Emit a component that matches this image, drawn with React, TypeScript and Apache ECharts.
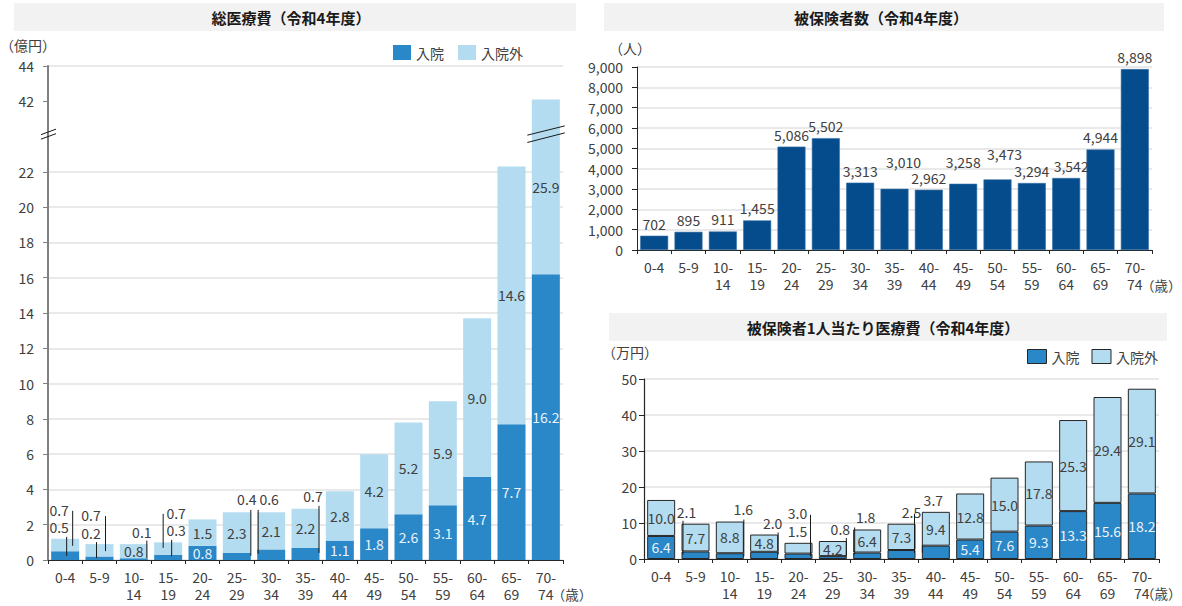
import React, { useEffect, useRef } from 'react';
import * as echarts from 'echarts';

const FONT = '"Noto Sans CJK JP", "Noto Sans", sans-serif';

// 年齢階級
const ageGroups = ['0-4', '5-9', '10-\n14', '15-\n19', '20-\n24', '25-\n29', '30-\n34', '35-\n39', '40-\n44', '45-\n49', '50-\n54', '55-\n59', '60-\n64', '65-\n69', '70-\n74'];

// 総医療費（億円）
const totalInpatient = [0.5, 0.2, 0.1, 0.3, 0.8, 0.4, 0.6, 0.7, 1.1, 1.8, 2.6, 3.1, 4.7, 7.7, 16.2];
const totalOutpatient = [0.7, 0.7, 0.8, 0.7, 1.5, 2.3, 2.1, 2.2, 2.8, 4.2, 5.2, 5.9, 9.0, 14.6, 25.9];
const totalTickLabels = [0, 2, 4, 6, 8, 10, 12, 14, 16, 18, 20, 22, 42, 44];

// 被保険者数（人）
const insuredCount = [702, 895, 911, 1455, 5086, 5502, 3313, 3010, 2962, 3258, 3473, 3294, 3542, 4944, 8898];

// 被保険者1人当たり医療費（万円）
const perInpatient = [6.4, 2.1, 1.6, 2.0, 1.5, 0.8, 1.8, 2.5, 3.7, 5.4, 7.6, 9.3, 13.3, 15.6, 18.2];
const perOutpatient = [10.0, 7.7, 8.8, 4.8, 3.0, 4.2, 6.4, 7.3, 9.4, 12.8, 15.0, 17.8, 25.3, 29.4, 29.1];

// axis break (22 -> 42) for the left chart
const BREAK_AT = 24;
const BREAK_SHIFT = 16;
const vis = (v: number) => (v <= BREAK_AT ? v : v - BREAK_SHIFT);
const unvis = (v: number) => (v <= BREAK_AT ? v : v + BREAK_SHIFT);

// callout layouts (pixel offsets from bar top): label offset & leader line [dx, y1, y2]
type Callout = { i: number; seg: 'in' | 'out'; lx: number; ly: number; line: number[] | null };
const leftCallouts: Callout[] = [
  { i: 0, seg: 'out', lx: -6, ly: -29, line: [7.5, -28, 7] },
  { i: 0, seg: 'in', lx: -6, ly: -12, line: [1.5, -2, 17] },
  { i: 1, seg: 'out', lx: -8.5, ly: -29, line: [6, -28, 7] },
  { i: 1, seg: 'in', lx: -8.5, ly: -11.5, line: [-3, -2, 14] },
  { i: 2, seg: 'in', lx: 8, ly: -12.5, line: [13, -3.5, 14] },
  { i: 3, seg: 'out', lx: 8, ly: -29.5, line: [-5, -28.5, 5.5] },
  { i: 3, seg: 'in', lx: 8, ly: -12.5, line: [3.5, -2.5, 14] },
  { i: 5, seg: 'in', lx: 10, ly: -13.5, line: [14, -2.5, 43.5] },
  { i: 6, seg: 'in', lx: -2, ly: -13.5, line: [-13, -2.5, 41.5] },
  { i: 7, seg: 'in', lx: 7.5, ly: -13, line: [13.5, -3, 44] },
];
const perCallouts: Callout[] = [
  { i: 1, seg: 'in', lx: -9, ly: -12, line: [-12.5, -3, 31] },
  { i: 2, seg: 'in', lx: 13.5, ly: -13, line: [14, -2, 35] },
  { i: 3, seg: 'in', lx: 8.5, ly: -12, line: [14, -2, 20] },
  { i: 4, seg: 'out', lx: -1, ly: -30, line: [12, -28, 13.5] },
  { i: 4, seg: 'in', lx: -1, ly: -12, line: null },
  { i: 5, seg: 'in', lx: 7.5, ly: -12, line: [13.5, -3, 15.5] },
  { i: 6, seg: 'in', lx: -1.5, ly: -12, line: [-12.5, -2, 25] },
  { i: 7, seg: 'in', lx: 10, ly: -12, line: [13, -10, 29] },
  { i: 8, seg: 'in', lx: -2.5, ly: -12, line: [-13.5, 33, 41] },
];
const countLabelOffsets: Record<number, number[]> = { 7: [9, -15], 9: [0, -10], 10: [7, -13], 12: [5, 0] };

const C_IN = '#2a87c8';
const C_OUT = '#b4dcf0';
const C_NAVY = '#054c8c';
const TXT = '#404040';
const TXT_W = '#eaf3fa';

const grids = [
  { left: 48, right: 619, top: 66, bottom: 46 },
  { left: 637, right: 30, top: 67, bottom: 356 },
  { left: 644, right: 23, top: 379, bottom: 47 },
];

const fmtComma = (n: number) => String(n).replace(/\B(?=(\d{3})+(?!\d))/g, ',');

function calloutSeries(callouts: Callout[], inArr: number[], outArr: number[], top: (i: number) => number, axis: number) {
  return {
    type: 'custom',
    xAxisIndex: axis,
    yAxisIndex: axis,
    z: 10,
    silent: true,
    clip: false,
    data: callouts.map((c) => [c.i, top(c.i)]),
    renderItem: (params: any, api: any) => {
      const c = callouts[params.dataIndex];
      const p = api.coord([c.i, api.value(1)]);
      const text = (c.seg === 'in' ? inArr : outArr)[c.i].toFixed(1);
      const children: any[] = [
        {
          type: 'text',
          style: {
            text,
            x: p[0] + c.lx,
            y: p[1] + c.ly,
            textAlign: 'center',
            textVerticalAlign: 'middle',
            align: 'center',
            verticalAlign: 'middle',
            fill: TXT,
            font: '14px ' + FONT,
          },
        },
      ];
      if (c.line) {
        children.push({
          type: 'line',
          shape: { x1: p[0] + c.line[0], y1: p[1] + c.line[1], x2: p[0] + c.line[0], y2: p[1] + c.line[2] },
          style: { stroke: '#1a1a1a', lineWidth: 1 },
        });
      }
      return { type: 'group', children };
    },
  };
}

const hasCallout = (list: Callout[], i: number, seg: string) => list.some((c) => c.i === i && c.seg === seg);

export default function App() {
  const ref = useRef<HTMLDivElement>(null);
  useEffect(() => {
    document.body.style.margin = '0';
    const chart = echarts.init(ref.current!, null, { renderer: 'svg' });

    const leftTickVis = totalTickLabels.map(vis);
    const splitColors: string[] = [];
    for (let v = 0; v <= 28; v += 2) splitColors.push(v === BREAK_AT ? 'rgba(0,0,0,0)' : '#e2e2e2');

    const xAxisBase = (gi: number) => ({
      type: 'category',
      gridIndex: gi,
      data: ageGroups,
      axisLine: { show: true, lineStyle: { color: '#262626', width: 1 } },
      axisTick: { show: true, length: 4, lineStyle: { color: '#262626' } },
      axisLabel: { interval: 0, color: TXT, fontSize: 14, lineHeight: 17, margin: 8, fontFamily: FONT },
    });

    const option: any = {
      animation: false,
      textStyle: { fontFamily: FONT },
      grid: grids,
      legend: [
        {
          data: ['入院', '入院外'],
          left: 393,
          top: 45,
          padding: 0,
          icon: 'rect',
          itemWidth: 18,
          itemHeight: 15,
          itemGap: 14,
          textStyle: { color: TXT, fontSize: 14, fontFamily: FONT },
          selectedMode: false,
        },
        {
          data: [
            { name: '入院', itemStyle: { color: C_IN, borderColor: '#262626', borderWidth: 1 } },
            { name: '入院外', itemStyle: { color: C_OUT, borderColor: '#262626', borderWidth: 1 } },
          ],
          left: 1027,
          top: 349,
          padding: 0,
          icon: 'rect',
          itemWidth: 19,
          itemHeight: 14,
          itemGap: 12,
          textStyle: { color: TXT, fontSize: 14, fontFamily: FONT },
          selectedMode: false,
        },
      ],
      xAxis: [xAxisBase(0), xAxisBase(1), xAxisBase(2)],
      yAxis: [
        {
          type: 'value',
          gridIndex: 0,
          min: 0,
          max: 28,
          interval: 2,
          axisLine: { show: true, lineStyle: { color: '#808080', width: 2 } },
          axisTick: { show: true, length: 5, lineStyle: { color: '#808080' }, customValues: leftTickVis },
          axisLabel: {
            color: TXT,
            fontSize: 14,
            margin: 14,
            customValues: leftTickVis,
            formatter: (v: number) => (v === BREAK_AT ? '' : String(unvis(v))),
          },
          splitLine: { show: true, lineStyle: { color: splitColors, width: 1.5 } },
        },
        {
          type: 'value',
          gridIndex: 1,
          min: 0,
          max: 9000,
          interval: 1000,
          axisLine: { show: true, lineStyle: { color: '#262626', width: 1 } },
          axisTick: { show: true, length: 5, lineStyle: { color: '#262626' } },
          axisLabel: { color: TXT, fontSize: 14, margin: 14, formatter: (v: number) => fmtComma(v) },
          splitLine: { show: true, lineStyle: { color: '#e2e2e2', width: 1.5 } },
        },
        {
          type: 'value',
          gridIndex: 2,
          min: 0,
          max: 50,
          interval: 10,
          axisLine: { show: true, lineStyle: { color: '#262626', width: 1.2 } },
          axisTick: { show: true, length: 5, lineStyle: { color: '#262626' } },
          axisLabel: { color: TXT, fontSize: 14, margin: 7 },
          splitLine: { show: true, lineStyle: { color: '#e2e2e2', width: 1.5 } },
        },
      ],
      series: [
        {
          type: 'bar',
          name: '入院',
          xAxisIndex: 0,
          yAxisIndex: 0,
          stack: 'total',
          barWidth: 28,
          itemStyle: { color: C_IN },
          label: { show: true, position: 'inside', color: TXT_W, fontSize: 14, formatter: (p: any) => totalInpatient[p.dataIndex].toFixed(1) },
          data: totalInpatient.map((v, i) => ({ value: vis(v), label: { show: !hasCallout(leftCallouts, i, 'in') } })),
        },
        {
          type: 'bar',
          name: '入院外',
          xAxisIndex: 0,
          yAxisIndex: 0,
          stack: 'total',
          barWidth: 28,
          itemStyle: { color: C_OUT },
          label: { show: true, position: 'inside', color: TXT, fontSize: 14, formatter: (p: any) => totalOutpatient[p.dataIndex].toFixed(1) },
          data: totalOutpatient.map((v, i) => ({
            value: +(vis(totalInpatient[i] + v) - vis(totalInpatient[i])).toFixed(3),
            label: { show: !hasCallout(leftCallouts, i, 'out') },
          })),
        },
        calloutSeries(leftCallouts, totalInpatient, totalOutpatient, (i) => vis(totalInpatient[i] + totalOutpatient[i]), 0),
        {
          type: 'bar',
          name: '被保険者数',
          xAxisIndex: 1,
          yAxisIndex: 1,
          barWidth: 28,
          itemStyle: { color: C_NAVY, borderColor: '#3b72a8', borderWidth: 0.6 },
          data: insuredCount,
        },
        {
          // transparent overlay carrying the value labels so that they sit above neighbouring bars
          type: 'bar',
          name: '被保険者数ラベル',
          xAxisIndex: 1,
          yAxisIndex: 1,
          barWidth: 28,
          barGap: '-100%',
          silent: true,
          itemStyle: { color: 'rgba(0,0,0,0)' },
          label: { show: true, position: 'top', distance: 5, color: TXT, fontSize: 14, formatter: (p: any) => fmtComma(insuredCount[p.dataIndex]) },
          data: insuredCount.map((v, i) => (countLabelOffsets[i] ? { value: v, label: { offset: countLabelOffsets[i] } } : { value: v })),
        },
        {
          type: 'bar',
          name: '入院',
          xAxisIndex: 2,
          yAxisIndex: 2,
          stack: 'per',
          barWidth: 28,
          itemStyle: { color: C_IN, borderColor: '#262626', borderWidth: 1 },
          label: { show: true, position: 'inside', color: TXT_W, fontSize: 14, formatter: (p: any) => perInpatient[p.dataIndex].toFixed(1) },
          data: perInpatient.map((v, i) => ({ value: v, label: { show: !hasCallout(perCallouts, i, 'in') } })),
        },
        {
          type: 'bar',
          name: '入院外',
          xAxisIndex: 2,
          yAxisIndex: 2,
          stack: 'per',
          barWidth: 28,
          itemStyle: { color: C_OUT, borderColor: '#262626', borderWidth: 1 },
          label: { show: true, position: 'inside', color: TXT, fontSize: 14, formatter: (p: any) => perOutpatient[p.dataIndex].toFixed(1) },
          data: perOutpatient.map((v, i) => ({ value: v, label: { show: !hasCallout(perCallouts, i, 'out') } })),
        },
        calloutSeries(perCallouts, perInpatient, perOutpatient, (i) => perInpatient[i] + perOutpatient[i], 2),
      ],
    };
    chart.setOption(option);

    // positions derived from the axes
    const last = ageGroups.length - 1;
    const pL = chart.convertToPixel({ xAxisIndex: 0, yAxisIndex: 0 }, [last, BREAK_AT]) as number[];
    const pL0 = chart.convertToPixel({ xAxisIndex: 0, yAxisIndex: 0 }, [last, 0]) as number[];
    const pT0 = chart.convertToPixel({ xAxisIndex: 1, yAxisIndex: 1 }, [last, 0]) as number[];
    const pB0 = chart.convertToPixel({ xAxisIndex: 2, yAxisIndex: 2 }, [last, 0]) as number[];
    const axisX = grids[0].left;
    const yc = pL[1] - 2.4;
    const brk = { stroke: '#1a1a1a', lineWidth: 1 };
    const titleFont = 'bold 15px ' + FONT;
    const txtFont = '14px ' + FONT;
    const ageFont = '13.5px ' + FONT;
    const txt = (text: string, x: number, y: number, font = txtFont, align = 'left') => ({
      type: 'text',
      x,
      y,
      style: { text, font, fill: font === titleFont ? '#1a1a1a' : TXT, textAlign: align, textVerticalAlign: 'middle', align, verticalAlign: 'middle' },
    });

    chart.setOption({
      graphic: [
        { type: 'rect', shape: { x: 14, y: 3, width: 562, height: 28 }, style: { fill: '#f2f2f2' }, z: -1 },
        { type: 'rect', shape: { x: 604, y: 3, width: 560, height: 28 }, style: { fill: '#f2f2f2' }, z: -1 },
        { type: 'rect', shape: { x: 609, y: 313, width: 558, height: 28 }, style: { fill: '#f2f2f2' }, z: -1 },
        txt('総医療費（令和4年度）', 291, 17, titleFont, 'center'),
        txt('被保険者数（令和4年度）', 881, 17, titleFont, 'center'),
        txt('被保険者1人当たり医療費（令和4年度）', 883, 327, titleFont, 'center'),
        txt('（億円）', 0, 45),
        txt('（人）', 609, 48),
        txt('（万円）', 602, 352),
        txt('（歳）', pL0[0] + 6, pL0[1] + 34, ageFont),
        txt('（歳）', Math.min(pT0[0] + 7, 1181.5 - 40.5), pT0[1] + 35, ageFont),
        txt('（歳）', Math.min(pB0[0] + 6, 1181.5 - 40.5), pB0[1] + 34, ageFont),
        // break marks on the axis
        { type: 'line', shape: { x1: axisX - 7, y1: yc + 0.5, x2: axisX + 8, y2: yc - 5 }, style: brk, z: 20 },
        { type: 'line', shape: { x1: axisX - 7, y1: yc + 5, x2: axisX + 8, y2: yc - 0.5 }, style: brk, z: 20 },
        // break marks on the 70-74 bar
        { type: 'line', shape: { x1: pL[0] - 18.5, y1: yc + 1, x2: pL[0] + 19, y2: yc - 8.3 }, style: brk, z: 20 },
        { type: 'line', shape: { x1: pL[0] - 18.5, y1: yc + 8.3, x2: pL[0] + 19, y2: yc - 1.3 }, style: brk, z: 20 },
      ],
    });

    return () => chart.dispose();
  }, []);

  return <div ref={ref} style={{ position: 'absolute', left: 0, top: 0, width: 1182, height: 606, background: '#fff' }} />;
}
